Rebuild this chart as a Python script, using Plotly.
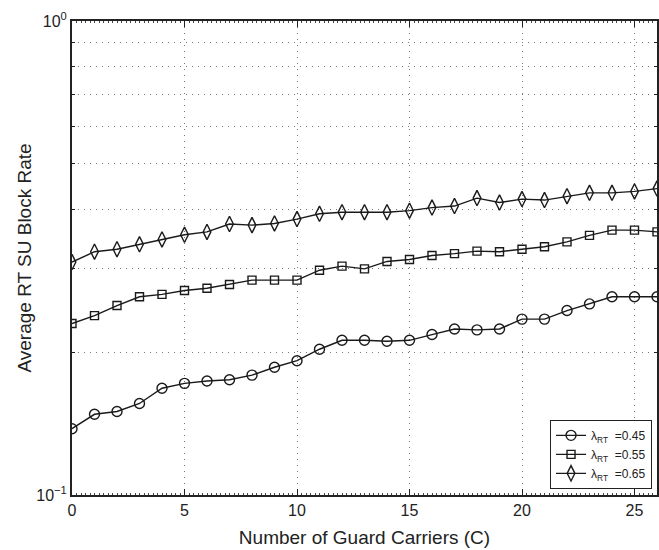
import plotly.graph_objects as go

guard_carriers = list(range(27))

block_045 = [0.138, 0.148, 0.150, 0.156, 0.168, 0.172, 0.174, 0.175, 0.179, 0.186,
             0.192, 0.203, 0.212, 0.212, 0.211, 0.212, 0.218, 0.224, 0.223, 0.224,
             0.235, 0.235, 0.245, 0.253, 0.262, 0.262, 0.262]
block_055 = [0.230, 0.239, 0.251, 0.262, 0.265, 0.270, 0.273, 0.278, 0.284, 0.284,
             0.284, 0.298, 0.304, 0.300, 0.311, 0.314, 0.320, 0.323, 0.327, 0.326,
             0.330, 0.334, 0.342, 0.353, 0.362, 0.362, 0.359]
block_065 = [0.310, 0.326, 0.330, 0.338, 0.346, 0.354, 0.359, 0.373, 0.371, 0.374,
             0.382, 0.392, 0.395, 0.395, 0.395, 0.398, 0.404, 0.407, 0.423, 0.414,
             0.421, 0.419, 0.427, 0.434, 0.434, 0.437, 0.443]

series = [
    ("λ<sub>RT</sub>  =0.45", block_045, "circle-open", 10),
    ("λ<sub>RT</sub>  =0.55", block_055, "square-open", 8),
    ("λ<sub>RT</sub>  =0.65", block_065, "diamond-tall-open", 11),
]

x_ticks = [0, 5, 10, 15, 20, 25]
y_ticks = [0.1, 1]
y_ticktext = ["10<sup>−1</sup>", "10<sup>0</sup>"]
y_minor = [0.2, 0.3, 0.4, 0.5, 0.6, 0.7, 0.8, 0.9]

fig = go.Figure()
for name, vals, sym, size in series:
    fig.add_trace(go.Scatter(
        x=guard_carriers, y=vals, name=name, mode="lines+markers",
        line=dict(color="#1a1a1a", width=1.4),
        marker=dict(symbol=sym, size=size, color="#1a1a1a",
                    line=dict(width=1.4, color="#1a1a1a")),
    ))

FONT = "Liberation Sans, Arial, sans-serif"
grid_dash = "1px,5px"

fig.update_layout(
    width=659, height=550,
    margin=dict(l=72, r=2, t=21, b=55),
    paper_bgcolor="white", plot_bgcolor="white",
    font=dict(family=FONT, size=16, color="#222"),
    showlegend=True,
    legend=dict(x=0.9915, y=0.013, xanchor="right", yanchor="bottom",
                bgcolor="white", bordercolor="#222", borderwidth=1,
                font=dict(family=FONT, size=12, color="#222"),
                tracegroupgap=0),
    xaxis=dict(
        range=[0, 26], tickmode="array", tickvals=x_ticks,
        ticks="inside", ticklen=6, tickcolor="#222",
        showline=True, linecolor="#222", linewidth=2, mirror="ticks",
        showgrid=True, gridcolor="#777", griddash=grid_dash, gridwidth=1,
        zeroline=False, automargin=False,
        minor=dict(dtick=0.2, ticks="inside", ticklen=2, tickcolor="#444", showgrid=False),
        title=dict(text="Number of Guard Carriers (C)", font=dict(size=19), standoff=12),
        tickfont=dict(size=16),
    ),
    yaxis=dict(
        type="log", range=[-1, 0], tickmode="array", tickvals=y_ticks, ticktext=y_ticktext,
        ticks="inside", ticklen=6, tickcolor="#222",
        showline=True, linecolor="#222", linewidth=2, mirror="ticks",
        showgrid=False, zeroline=False, automargin=False,
        minor=dict(tickmode="array", tickvals=y_minor, ticks="inside", ticklen=3,
                   tickcolor="#222", showgrid=True, gridcolor="#777", griddash=grid_dash,
                   gridwidth=1),
        title=dict(text="Average RT SU Block Rate", font=dict(size=19), standoff=0),
        tickfont=dict(size=16),
    ),
)

fig.write_html("out.html", config={"displayModeBar": False},
               post_script="document.body.style.margin='0';document.body.style.padding='0';")
